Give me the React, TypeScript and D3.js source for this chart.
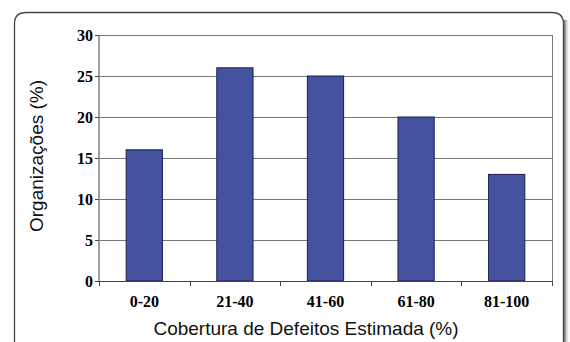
import React from "react";
import * as d3 from "d3";

const categories = ["0-20", "21-40", "41-60", "61-80", "81-100"];
const values = [16, 26, 25, 20, 13];
const yTicks = [0, 5, 10, 15, 20, 25, 30];
const xTitle = "Cobertura de Defeitos Estimada (%)";
const yTitle = "Organizações (%)";

export default function App() {
  const W = 570, H = 342;
  const left = 99, right = 552, top = 35, bottom = 281;
  const x = d3.scaleBand<string>().domain(categories).range([left, right]).paddingInner(0).paddingOuter(0);
  const y = d3.scaleLinear().domain([0, 30]).range([bottom, top]);
  const bw = x.bandwidth() * 0.4;
  const bounds = categories.map((c) => x(c) as number).concat([right]);
  return (
    <svg width={W} height={H} style={{ position: "absolute", left: 0, top: 0, display: "block" }}>
      <defs>
        <linearGradient id="sh" x1="0" x2="1" y1="0" y2="0">
          <stop offset="0" stopColor="#555" stopOpacity="0.9" />
          <stop offset="1" stopColor="#fff" stopOpacity="0" />
        </linearGradient>
      </defs>
      <rect x={0} y={0} width={W} height={H} fill="#fff" />
      <rect x={564} y={20} width={6} height={H} fill="url(#sh)" />
      <path d={`M14.5,${H + 5} L14.5,24 Q14.5,12.5 26,12.5 L552,12.5 Q563.5,12.5 563.5,24 L563.5,${H + 5}`} fill="#fff" stroke="#444" strokeWidth={1.3} />
      {yTicks.filter((t) => t > 0).map((t) => (
        <line key={t} x1={left} x2={right} y1={Math.round(y(t)) + 0.5} y2={Math.round(y(t)) + 0.5} stroke="#777" strokeWidth={1} />
      ))}
      <line x1={right + 0.5} x2={right + 0.5} y1={top} y2={bottom} stroke="#777" strokeWidth={1} />
      {categories.map((c, i) => {
        const cx = (x(c) as number) + x.bandwidth() / 2;
        return (
          <rect key={c} x={cx - bw / 2} y={y(values[i])} width={bw} height={y(0) - y(values[i])} fill="#4452A0" stroke="#1c1f4e" strokeWidth={1} />
        );
      })}
      <line x1={left} x2={left} y1={top} y2={bottom + 1} stroke="#a0a0a0" strokeWidth={2} />
      <line x1={left} x2={right} y1={bottom + 0.5} y2={bottom + 0.5} stroke="#444" strokeWidth={1} />
      {yTicks.map((t) => (
        <g key={t}>
          <line x1={left - 4} x2={left} y1={Math.round(y(t)) + 0.5} y2={Math.round(y(t)) + 0.5} stroke="#444" />
          <text x={93} y={y(t)} dy="0.35em" textAnchor="end" fontFamily="Liberation Serif, Times New Roman, serif" fontWeight="bold" fontSize={16}>{t}</text>
        </g>
      ))}
      {bounds.map((b, i) => (
        <line key={i} x1={Math.round(b) + 0.5} x2={Math.round(b) + 0.5} y1={bottom} y2={bottom + 5} stroke="#444" />
      ))}
      {categories.map((c) => (
        <text key={c} x={(x(c) as number) + x.bandwidth() / 2} y={301} dy="0.35em" textAnchor="middle" fontFamily="Liberation Serif, Times New Roman, serif" fontWeight="bold" fontSize={16}>{c}</text>
      ))}
      <text x={306} y={328} dy="0.35em" textAnchor="middle" fontFamily="Liberation Sans, Arial, sans-serif" fontSize={19} fill="#111">{xTitle}</text>
      <text transform={`translate(36,156) rotate(-90)`} dy="0.35em" textAnchor="middle" fontFamily="Liberation Sans, Arial, sans-serif" fontSize={19} fill="#111">{yTitle}</text>
    </svg>
  );
}
